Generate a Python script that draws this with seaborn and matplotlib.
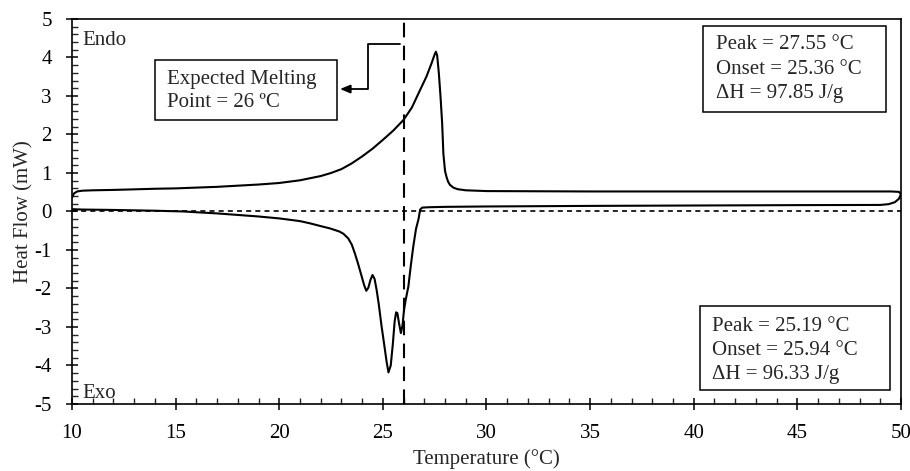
import numpy as np
import pandas as pd
import matplotlib
matplotlib.use("Agg")
import matplotlib.pyplot as plt
from matplotlib.ticker import MultipleLocator
from matplotlib.patches import Rectangle
import seaborn as sns

# Heating run (endotherm)
heat_T = [10.0, 10.1, 10.25, 10.5, 11, 12, 13, 14, 15, 16, 17, 18, 19, 20, 21, 22, 22.5, 23,
          23.5, 24, 24.5, 25, 25.5, 26, 26.4, 26.8, 27.1, 27.35, 27.5, 27.56, 27.62, 27.7,
          27.78, 27.86, 27.92, 28.0, 28.08, 28.15, 28.24, 28.4, 28.6, 29.0, 30, 35, 40, 45,
          49.5, 49.9, 50.0]
heat_Q = [0.36, 0.47, 0.52, 0.54, 0.55, 0.56, 0.575, 0.59, 0.6, 0.62, 0.64, 0.67, 0.7, 0.74,
          0.81, 0.92, 1.0, 1.1, 1.25, 1.43, 1.63, 1.86, 2.1, 2.38, 2.7, 3.16, 3.5, 3.85, 4.08,
          4.15, 4.05, 3.6, 3.0, 2.3, 1.5, 1.05, 0.88, 0.77, 0.69, 0.62, 0.58, 0.55, 0.53, 0.52,
          0.52, 0.52, 0.52, 0.51, 0.45]

# Cooling run (exotherm)
cool_T = [50.0, 49.9, 49.7, 49.4, 49.0, 45, 40, 35, 30, 28, 27.2, 26.9, 26.8, 26.72, 26.6,
          26.47, 26.35, 26.23, 26.1, 26.02, 25.95, 25.87, 25.78, 25.7, 25.64, 25.57, 25.48,
          25.38, 25.27, 25.18, 25.05, 24.94, 24.8, 24.7, 24.6, 24.5, 24.4, 24.3, 24.2, 24.1,
          23.98, 23.8, 23.65, 23.5, 23.33, 23.1, 22.9, 22.45, 22, 21.5, 21, 20, 19, 18, 17,
          16, 15.4, 14, 12, 10.5, 10.0]
cool_Q = [0.45, 0.33, 0.24, 0.19, 0.17, 0.165, 0.155, 0.145, 0.13, 0.12, 0.11, 0.1, 0.05,
          -0.2, -0.45, -0.9, -1.4, -1.95, -2.3, -2.56, -2.95, -3.16, -2.9, -2.64, -2.62,
          -2.85, -3.45, -4.0, -4.18, -3.9, -3.4, -2.99, -2.4, -2.04, -1.75, -1.65, -1.78,
          -1.98, -2.06, -1.92, -1.69, -1.35, -1.09, -0.86, -0.70, -0.58, -0.52, -0.44, -0.38,
          -0.31, -0.25, -0.18, -0.13, -0.09, -0.05, -0.02, 0.0, 0.02, 0.04, 0.05, 0.06]

x_ticks = [10, 15, 20, 25, 30, 35, 40, 45, 50]
y_ticks = [-5, -4, -3, -2, -1, 0, 1, 2, 3, 4, 5]

sns.set_style("ticks")
plt.rcParams["font.family"] = ["Liberation Serif", "DejaVu Serif"]
plt.rcParams["axes.unicode_minus"] = False

fig = plt.figure(figsize=(9.1, 4.71), dpi=100)
ax = fig.add_axes([0.0791, 0.1423, 0.9110, 0.8174])

heat = pd.DataFrame({"T": heat_T, "Q": heat_Q})
cool = pd.DataFrame({"T": cool_T, "Q": cool_Q})
sns.lineplot(data=heat, x="T", y="Q", sort=False, estimator=None, color="black", lw=1.5, ax=ax)
sns.lineplot(data=cool, x="T", y="Q", sort=False, estimator=None, color="black", lw=1.5, ax=ax)

ax.axhline(0, color="black", lw=1.2, ls=(0, (3, 2.5)), zorder=1)
ax.axvline(26, color="black", lw=1.5, ls=(0, (7, 4)), zorder=1)

ax.set_xlim(10, 50)
ax.set_ylim(-5, 5)
ax.set_xticks(x_ticks)
ax.set_yticks(y_ticks)
ax.xaxis.set_minor_locator(MultipleLocator(1))
ax.yaxis.set_minor_locator(MultipleLocator(0.2))
ax.tick_params(which="major", direction="inout", length=9, width=1.1, labelsize=15, colors="black")
ax.tick_params(axis="x", which="major", pad=10)
ax.tick_params(axis="y", which="major", pad=10)
ax.tick_params(which="minor", direction="in", length=4.5, width=1.0)
for s in ax.spines.values():
    s.set_linewidth(1.2)
    s.set_color("black")
ax.set_xlabel("Temperature (°C)", fontsize=15, labelpad=4)
ax.set_ylabel("Heat Flow (mW)", fontsize=15, labelpad=1)

ax.text(10.5, 4.45, "Endo", fontsize=15, va="center", ha="left")
ax.text(10.5, -4.73, "Exo", fontsize=15, va="center", ha="left")

# annotation boxes
for (x0, x1, y0, y1) in [(14.0, 22.79, 2.38, 3.94), (40.45, 49.28, 2.58, 4.82),
                         (40.30, 49.47, -4.64, -2.45)]:
    ax.add_patch(Rectangle((x0, y0), x1 - x0, y1 - y0, fc="white", ec="black", lw=1.1, zorder=3))

ax.text(14.57, 3.13, "Expected Melting\nPoint = 26 ºC", fontsize=15, va="center", ha="left",
        linespacing=1.31, zorder=4)
ax.text(41.05, 3.70, "Peak = 27.55 °C\nOnset = 25.36 °C\nΔH = 97.85 J/g", fontsize=15,
        va="center", ha="left", linespacing=1.42, zorder=4)
ax.text(40.9, -3.60, "Peak = 25.19 °C\nOnset = 25.94 °C\nΔH = 96.33 J/g", fontsize=15,
        va="center", ha="left", linespacing=1.36, zorder=4)

# arrow from the dashed line to the box
ax.plot([25.83, 24.28, 24.28, 23.3], [4.35, 4.35, 3.18, 3.18], color="black", lw=1.3)
ax.annotate("", xy=(22.8, 3.18), xytext=(23.4, 3.18),
            arrowprops=dict(arrowstyle="-|>,head_length=0.6,head_width=0.25", color="black", lw=1.3))

fig.savefig("out.png", dpi=100)
